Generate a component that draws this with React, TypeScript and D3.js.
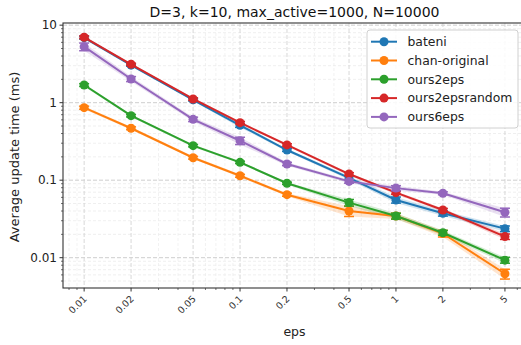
import React from "react";
import * as d3 from "d3";

const epsValues = [0.01, 0.02, 0.05, 0.1, 0.2, 0.5, 1, 2, 5];
const xTickLabels = ["0.01", "0.02", "0.05", "0.1", "0.2", "0.5", "1", "2", "5"];
const yTickValues = [0.01, 0.1, 1, 10];
const yTickLabels = ["0.01", "0.1", "1", "10"];

const seriesNames = ["bateni", "chan-original", "ours2eps", "ours2epsrandom", "ours6eps"];
const seriesColors = ["#1f77b4", "#ff7f0e", "#2ca02c", "#d62728", "#9467bd"];

const bateni = [6.9, 3.05, 1.09, 0.51, 0.245, 0.107, 0.0556, 0.0374, 0.0237];
const chanOriginal = [0.862, 0.468, 0.195, 0.114, 0.065, 0.04, 0.0345, 0.0205, 0.0062];
const ours2eps = [1.69, 0.68, 0.279, 0.17, 0.0912, 0.0514, 0.0345, 0.021, 0.0093];
const ours2epsrandom = [6.98, 3.13, 1.116, 0.552, 0.285, 0.12, 0.069, 0.0412, 0.0187];
const ours6eps = [5.28, 2.02, 0.61, 0.323, 0.162, 0.0965, 0.079, 0.0678, 0.0385];

const bateniErr = [0.3, 0.1, 0.04, 0.03, 0.01, 0.006, 0.005, 0.003, 0.002];
const chanOriginalErr = [0.04, 0.02, 0.008, 0.005, 0.003, 0.006, 0.003, 0.002, 0.0009];
const ours2epsErr = [0.07, 0.025, 0.01, 0.006, 0.003, 0.005, 0.003, 0.0015, 0.0008];
const ours2epsrandomErr = [0.3, 0.1, 0.04, 0.02, 0.01, 0.005, 0.003, 0.002, 0.0015];
const ours6epsErr = [0.6, 0.15, 0.04, 0.035, 0.008, 0.005, 0.006, 0.003, 0.005];

const seriesValues = [bateni, chanOriginal, ours2eps, ours2epsrandom, ours6eps];
const seriesErrors = [bateniErr, chanOriginalErr, ours2epsErr, ours2epsrandomErr, ours6epsErr];

const W = 521;
const H = 345;
const L = 63;
const R = 526;
const T = 23;
const B = 288;

export default function App() {
  const x = d3.scaleLog().domain([Math.pow(10, -2.1355), Math.pow(10, 0.834)]).range([L, R]);
  const y = d3.scaleLog().domain([Math.pow(10, -2.391), Math.pow(10, 1.028)]).range([B, T]);

  const xMinor: number[] = [];
  const yMinor: number[] = [];
  for (let e = -3; e <= 1; e++) {
    for (let k = 1; k <= 9; k++) {
      const v = k * Math.pow(10, e);
      const px = x(v);
      if (px >= L && px <= W && !epsValues.some((m) => Math.abs(m - v) < 1e-9)) xMinor.push(v);
      const py = y(v);
      if (py >= T && py <= B && !yTickValues.some((m) => Math.abs(m - v) < 1e-9)) yMinor.push(v);
    }
  }

  const line = d3
    .line<number>()
    .x((_, i) => x(epsValues[i]))
    .y((d) => y(d));

  const area = (vals: number[], errs: number[]) =>
    d3
      .area<number>()
      .x((_, i) => x(epsValues[i]))
      .y0((d, i) => y(Math.max(d - errs[i], 1e-5)))
      .y1((d, i) => y(d + errs[i]))(vals) as string;

  const font = "DejaVu Sans, sans-serif";

  return (
    <svg
      width={W}
      height={H}
      style={{ position: "fixed", left: 0, top: 0, background: "#fff" }}
      fontFamily={font}
    >
      <defs>
        <clipPath id="plot">
          <rect x={L} y={T} width={R - L} height={B - T} />
        </clipPath>
      </defs>
      <rect x={0} y={0} width={W} height={H} fill="#fff" />
      <g clipPath="url(#plot)">
        {yMinor.map((v) => (
          <line key={"ym" + v} x1={L} x2={R} y1={y(v)} y2={y(v)} stroke="#e8e8e8" strokeWidth={0.7} strokeDasharray="3,2" />
        ))}
        {xMinor.map((v) => (
          <line key={"xm" + v} x1={x(v)} x2={x(v)} y1={T} y2={B} stroke="#ececec" strokeWidth={0.7} strokeDasharray="3,2" />
        ))}
        {yTickValues.map((v) => (
          <line key={"yg" + v} x1={L} x2={R} y1={y(v)} y2={y(v)} stroke="#c8c8c8" strokeWidth={0.9} strokeDasharray="4,2" />
        ))}
        {epsValues.map((v) => (
          <line key={"xg" + v} x1={x(v)} x2={x(v)} y1={T} y2={B} stroke="#d4d4d4" strokeWidth={0.9} strokeDasharray="4,2" />
        ))}
      </g>
      <g clipPath="url(#plot)">
        {seriesValues.map((vals, si) => (
          <path key={"a" + si} d={area(vals, seriesErrors[si])} fill={seriesColors[si]} opacity={0.2} stroke="none" />
        ))}
        {seriesValues.map((vals, si) => {
          const c = seriesColors[si];
          const errs = seriesErrors[si];
          return (
            <g key={"s" + si}>
              <path d={line(vals) as string} fill="none" stroke={c} strokeWidth={2} />
              {vals.map((v, i) => {
                const px = x(epsValues[i]);
                const y0 = y(Math.max(v - errs[i], 1e-5));
                const y1 = y(v + errs[i]);
                return (
                  <g key={i}>
                    <line x1={px} x2={px} y1={y0} y2={y1} stroke={c} strokeWidth={1.5} />
                    <line x1={px - 5} x2={px + 5} y1={y0} y2={y0} stroke={c} strokeWidth={1.5} />
                    <line x1={px - 5} x2={px + 5} y1={y1} y2={y1} stroke={c} strokeWidth={1.5} />
                    <circle cx={px} cy={y(v)} r={4.5} fill={c} />
                  </g>
                );
              })}
            </g>
          );
        })}
      </g>
      <rect x={L} y={T} width={R - L} height={B - T} fill="none" stroke="#333" strokeWidth={1.1} />
      {yTickValues.map((v, i) => (
        <g key={"yt" + v}>
          <line x1={L - 3.5} x2={L} y1={y(v)} y2={y(v)} stroke="#333" strokeWidth={1} />
          <text x={L - 6} y={y(v)} dy="0.35em" textAnchor="end" fontSize={12} fill="#222">
            {yTickLabels[i]}
          </text>
        </g>
      ))}
      {yMinor.map((v) => (
        <line key={"ymt" + v} x1={L - 2} x2={L} y1={y(v)} y2={y(v)} stroke="#333" strokeWidth={0.7} />
      ))}
      {epsValues.map((v, i) => (
        <g key={"xt" + v}>
          <line x1={x(v)} x2={x(v)} y1={B} y2={B + 3.5} stroke="#333" strokeWidth={1} />
          <text
            transform={`translate(${x(v) + 1},${B + 9}) rotate(-45)`}
            textAnchor="end"
            dy="0.35em"
            fontSize={9.5}
            fill="#333"
          >
            {xTickLabels[i]}
          </text>
        </g>
      ))}
      {xMinor.map((v) => (
        <line key={"xmt" + v} x1={x(v)} x2={x(v)} y1={B} y2={B + 2} stroke="#333" strokeWidth={0.7} />
      ))}
      <text x={(L + R) / 2} y={17} textAnchor="middle" fontSize={14} fill="#111">
        D=3, k=10, max_active=1000, N=10000
      </text>
      <text x={(L + R) / 2} y={336} textAnchor="middle" fontSize={12.5} fill="#222">
        eps
      </text>
      <text
        transform={`translate(19,${(T + B) / 2 + 1.5}) rotate(-90)`}
        textAnchor="middle"
        fontSize={13}
        fill="#222"
      >
        Average update time (ms)
      </text>
      <g>
        <rect x={367} y={30} width={151} height={98} rx={3} fill="#fff" fillOpacity={0.85} stroke="#d0d0d0" strokeWidth={1} />
        {seriesNames.map((n, i) => {
          const cy = 41.7 + i * 18.8;
          return (
            <g key={"lg" + n}>
              <line x1={371} x2={397} y1={cy} y2={cy} stroke={seriesColors[i]} strokeWidth={2} />
              <circle cx={384} cy={cy} r={4.5} fill={seriesColors[i]} />
              <text x={407.5} y={cy} dy="0.35em" fontSize={12.4} fill="#222">
                {n}
              </text>
            </g>
          );
        })}
      </g>
    </svg>
  );
}
